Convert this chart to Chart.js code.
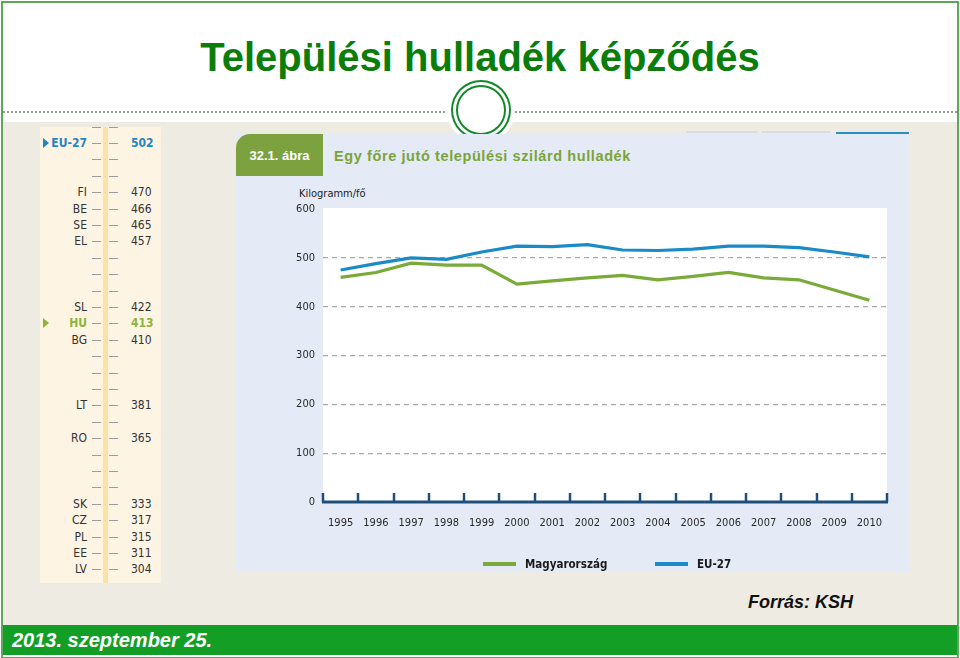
<!DOCTYPE html>
<html>
<head>
<meta charset="utf-8">
<script src="https://cdn.jsdelivr.net/npm/chart.js@4/dist/chart.umd.min.js"></script>
<style>
  html, body { margin: 0; padding: 0; background: #fff; }
  #slide { position: relative; width: 960px; height: 658px; overflow: hidden; background: #fff; font-family: "Liberation Sans", Arial, sans-serif; }
  .abs { position: absolute; }
  #frame { left: 1px; top: 1px; width: 954px; height: 654px; border: 2px solid #5ea65e; box-sizing: content-box; }
  #beige { left: 3px; top: 122px; width: 954px; height: 503px; background: #eeebe2; }
  #title { left: 0; width: 960px; top: 32px; text-align: center; font-weight: bold; font-size: 40px; color: #0b7d0b; line-height: 50px; }
  #dots { left: 3px; top: 111px; width: 954px; height: 0; border-top: 2px dotted #8fa48f; }
  #ring { left: 456px; top: 85px; width: 46px; height: 46px; border-radius: 50%; border: 2px solid #138a2a; background: #fff; box-shadow: 0 0 0 3px #fff, 0 0 0 5px #138a2a, 0 0 0 9px #fff; }
  #bar { left: 3px; top: 625px; width: 954px; height: 30px; background: #139f26; }
  #date { left: 12px; top: 626px; font-style: italic; font-weight: bold; font-size: 20px; color: #fff; line-height: 28px; }
  #source { left: 748px; top: 590px; font-style: italic; font-weight: bold; font-size: 18px; color: #111; line-height: 24px; }
  #strip { left: 40px; top: 127px; width: 121px; height: 456px; background: #fdf4e3; overflow: hidden; }
  #stripbar { left: 63px; top: 0; width: 5px; height: 456px; background: #fbe2a6; }
  .row { position: absolute; left: 0; width: 121px; height: 16px; font-family: "Liberation Sans Narrow", "DejaVu Sans Condensed", sans-serif; font-size: 12px; line-height: 16px; color: #333; }
  .row .code { position: absolute; right: 74px; top: 0; }
  .row .val { position: absolute; left: 91px; top: 0; }
  .row .d1 { position: absolute; left: 52px; top: 8px; width: 9px; height: 1px; background: #9a9a9a; }
  .row .d2 { position: absolute; left: 69px; top: 8px; width: 9px; height: 1px; background: #9a9a9a; }
  .row .tri { position: absolute; left: 3px; top: 3px; width: 0; height: 0; border-top: 5px solid transparent; border-bottom: 5px solid transparent; }
  #panel { left: 236px; top: 134px; width: 673px; height: 437px; background: #e4ebf6; }
  #tab { left: 236px; top: 134px; width: 87px; height: 42px; background: #7ba23e; border-top-left-radius: 14px; color: #fff; font-weight: bold; font-size: 13px; line-height: 44px; text-align: center; }
  #ptitle { left: 334px; top: 146px; color: #7aa33a; font-weight: bold; font-size: 14.5px; letter-spacing: 0.6px; line-height: 20px; }
  #unit { left: 299px; top: 187px; font-family: "Liberation Sans Narrow", "DejaVu Sans Condensed", sans-serif; font-size: 11px; color: #222; line-height: 14px; }
  #chartbox { left: 236px; top: 176px; width: 673px; height: 395px; }
</style>
</head>
<body>
<div id="slide">
  <div id="beige" class="abs"></div>
  <div id="title" class="abs">Települési hulladék képződés</div>
  <div id="dots" class="abs"></div>
  <div class="abs" style="left:686px;top:131px;width:71px;height:2px;background:#d9dde3"></div>
  <div class="abs" style="left:762px;top:131px;width:68px;height:2px;background:#d9dde3"></div>
  <div class="abs" style="left:836px;top:132px;width:73px;height:2px;background:#2a8fc4"></div>
  <div id="ring" class="abs"></div>
  <div id="strip" class="abs"><div id="stripbar" class="abs"></div></div>
  <div id="panel" class="abs"></div>
  <div id="tab" class="abs">32.1. ábra</div>
  <div id="ptitle" class="abs">Egy főre jutó települési szilárd hulladék</div>
  <div id="unit" class="abs">Kilogramm/fő</div>
  <div id="chartbox" class="abs"><canvas id="c" width="673" height="395"></canvas></div>
  <div id="source" class="abs">Forrás: KSH</div>
  <div id="bar" class="abs"></div>
  <div id="date" class="abs">2013. szeptember 25.</div>
  <div id="frame" class="abs" style="pointer-events:none"></div>
</div>
<script>
// ---- data ----
const years = ['1995','1996','1997','1998','1999','2000','2001','2002','2003','2004','2005','2006','2007','2008','2009','2010'];
const hungary = [460, 470, 489, 485, 485, 446, 453, 459, 464, 455, 462, 470, 459, 455, 434, 413];
const eu27 = [475, 488, 500, 497, 512, 524, 523, 527, 516, 515, 518, 524, 524, 521, 512, 502];
const seriesNames = ['Magyarország', 'EU-27'];
const yTicks = [0, 100, 200, 300, 400, 500, 600];
// country ranking strip (2010)
const stripCodes = ['', 'EU-27', '', '', 'FI', 'BE', 'SE', 'EL', '', '', '', 'SL', 'HU', 'BG', '', '', '', 'LT', '', 'RO', '', '', '', 'SK', 'CZ', 'PL', 'EE', 'LV'];
const stripValues = [null, 502, null, null, 470, 466, 465, 457, null, null, null, 422, 413, 410, null, null, null, 381, null, 365, null, null, null, 333, 317, 315, 311, 304];

const GREEN = '#7aab3a';
const BLUE = '#1b8bc8';

// ---- strip ----
(function () {
  const strip = document.getElementById('strip');
  const rowH = 16.4, top0 = 8 - 16.4;
  stripCodes.forEach((code, i) => {
    const r = document.createElement('div');
    r.className = 'row';
    r.style.top = (top0 + i * rowH) + 'px';
    let color = '#333', bold = false, tri = null;
    if (code === 'EU-27') { color = '#1f86c4'; bold = true; tri = '#1f86c4'; }
    if (code === 'HU') { color = '#8cb43c'; bold = true; tri = '#8cb43c'; }
    r.innerHTML = '<span class="code"></span><span class="d1"></span><span class="d2"></span><span class="val"></span>';
    r.querySelector('.code').textContent = code;
    r.querySelector('.val').textContent = stripValues[i] === null ? '' : String(stripValues[i]);
    r.style.color = color;
    if (bold) r.style.fontWeight = 'bold';
    if (tri) {
      const t = document.createElement('span');
      t.className = 'tri';
      t.style.borderLeft = '6px solid ' + tri;
      r.appendChild(t);
    }
    strip.appendChild(r);
  });
})();

// ---- chart ----
const plotBg = {
  id: 'plotBg',
  beforeDraw(chart) {
    const { ctx, chartArea: a } = chart;
    ctx.save();
    ctx.fillStyle = '#ffffff';
    ctx.fillRect(a.left, a.top - 1, a.right - a.left, a.bottom - a.top + 1);
    ctx.restore();
  }
};
const upTicks = {
  id: 'upTicks',
  afterDatasetsDraw(chart) {
    const { ctx } = chart;
    const x = chart.scales.x, y = chart.scales.y;
    const half = (x.getPixelForValue(1) - x.getPixelForValue(0)) / 2;
    const base = y.getPixelForValue(0);
    ctx.save();
    ctx.strokeStyle = '#1f4f7c';
    ctx.lineWidth = 2.5;
    for (let i = 0; i <= years.length; i++) {
      const px = Math.round(x.getPixelForValue(0) - half + i * 2 * half);
      ctx.beginPath();
      ctx.moveTo(px, base);
      ctx.lineTo(px, base - 9);
      ctx.stroke();
    }
    ctx.lineWidth = 3;
    ctx.beginPath();
    ctx.moveTo(x.left - 1, base);
    ctx.lineTo(x.right + 1, base);
    ctx.stroke();
    ctx.restore();
  }
};
const legendDraw = {
  id: 'legendDraw',
  afterDraw(chart) {
    const { ctx } = chart;
    const pos = [{ lx: 247, tx: 289 }, { lx: 419, tx: 461 }];
    ctx.save();
    chart.data.datasets.forEach((ds, i) => {
      const yy = 388;
      ctx.strokeStyle = ds.borderColor;
      ctx.lineWidth = 4;
      ctx.beginPath();
      ctx.moveTo(pos[i].lx, yy);
      ctx.lineTo(pos[i].lx + 33, yy);
      ctx.stroke();
      ctx.fillStyle = '#1a1a1a';
      ctx.font = 'bold 11.5px "Liberation Sans Narrow", "DejaVu Sans Condensed", sans-serif';
      ctx.textBaseline = 'middle';
      ctx.fillText(ds.label, pos[i].tx, yy + 1);
    });
    ctx.restore();
  }
};

new Chart(document.getElementById('c'), {
  type: 'line',
  data: {
    labels: years,
    datasets: [
      { label: seriesNames[0], data: hungary, borderColor: GREEN, backgroundColor: GREEN, borderWidth: 3.2, pointRadius: 0, tension: 0 },
      { label: seriesNames[1], data: eu27, borderColor: BLUE, backgroundColor: BLUE, borderWidth: 3.2, pointRadius: 0, tension: 0 }
    ]
  },
  options: {
    responsive: false,
    animation: false,
    devicePixelRatio: 1,
    layout: { padding: { left: 0, right: 22, top: 33, bottom: 0 } },
    plugins: { legend: { display: false }, tooltip: { enabled: false }, title: { display: false } },
    scales: {
      x: {
        type: 'category',
        offset: true,
        grid: { display: false, offset: true },
        border: { display: false },
        ticks: { color: '#2a2a2a', padding: 7, maxRotation: 0, autoSkip: false, font: { family: '"Liberation Sans Narrow", "DejaVu Sans Condensed", sans-serif', size: 11 } },
        afterFit(s) { s.height = 69; }
      },
      y: {
        min: 0, max: 600,
        afterBuildTicks(s) { s.ticks = yTicks.map(v => ({ value: v })); },
        grid: {
          drawTicks: false,
          color: c => (c.tick.value === 0 || c.tick.value === 600) ? 'rgba(0,0,0,0)' : '#a9a9a9',
          lineWidth: 1.2
        },
        border: { display: false, dash: [5, 4] },
        ticks: { color: '#2a2a2a', padding: 8, font: { family: '"Liberation Sans Narrow", "DejaVu Sans Condensed", sans-serif', size: 11 } },
        afterFit(s) { s.width = 87; }
      }
    }
  },
  plugins: [plotBg, upTicks, legendDraw]
});
</script>
</body>
</html>
